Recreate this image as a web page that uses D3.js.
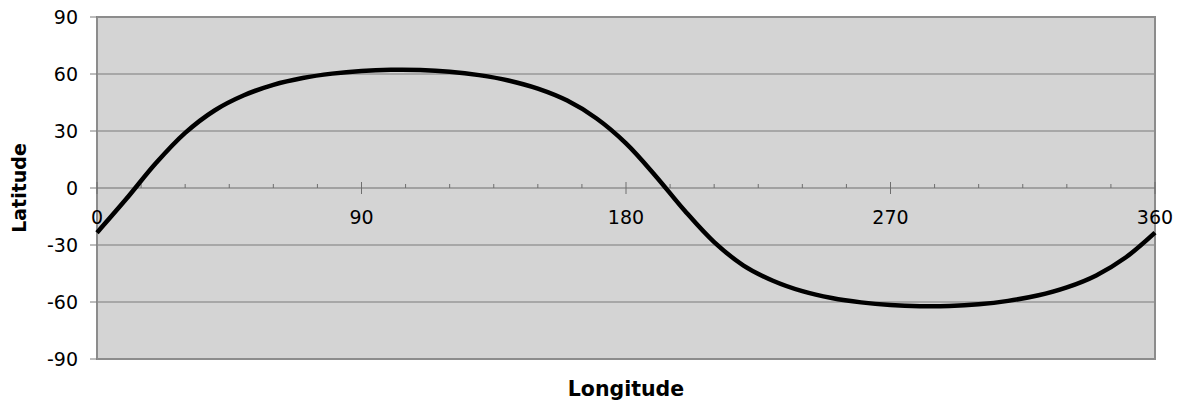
<!DOCTYPE html>
<html>
<head>
<meta charset="utf-8">
<script src="https://cdn.jsdelivr.net/npm/d3@7"></script>
<style>
  body { margin: 0; background: #fff; }
  text { font-family: "DejaVu Sans", Verdana, sans-serif; }
</style>
</head>
<body>
<svg id="chart" width="1180" height="402"></svg>
<script>
// ground track, every 10 degrees
const longitude = [0, 10, 20, 30, 40, 50, 60, 70, 80, 90, 100, 110, 120, 130, 140, 150, 160, 170, 180,
  190, 200, 210, 220, 230, 240, 250, 260, 270, 280, 290, 300, 310, 320, 330, 340, 350, 360];
const latitude = [-23.5, -5.7, 13, 29, 40.8, 48.8, 54.3, 57.9, 60.2, 61.6, 62.2, 62.1, 61.2, 59.4, 56.6, 52.3, 46, 36.6, 23.5,
  6.5, -12, -28.5, -40.8, -48.8, -54.3, -57.9, -60.2, -61.6, -62.2, -62.1, -61.2, -59.4, -56.6, -52.3, -46, -36.6, -23.5];

const yTicks = [90, 60, 30, 0, -30, -60, -90];
const xLabels = [0, 90, 180, 270, 360];
const xMinor = d3.range(0, 361, 15);

const svg = d3.select("#chart");
const margin = { top: 17, right: 25, bottom: 43, left: 97 };
const W = 1180, H = 402;

const x = d3.scaleLinear().domain([0, 360]).range([margin.left, W - margin.right]);
const y = d3.scaleLinear().domain([-90, 90]).range([H - margin.bottom, margin.top]);

// plot background
svg.append("rect")
  .attr("x", x(0)).attr("y", y(90))
  .attr("width", x(360) - x(0)).attr("height", y(-90) - y(90))
  .attr("fill", "#d4d4d4");

// gridlines
svg.append("g").selectAll("line")
  .data(yTicks.filter(d => d !== 0))
  .join("line")
  .attr("x1", x(0)).attr("x2", x(360))
  .attr("y1", d => y(d)).attr("y2", d => y(d))
  .attr("stroke", "#7a7a7a").attr("stroke-width", 1);

// plot border
svg.append("rect")
  .attr("x", x(0)).attr("y", y(90))
  .attr("width", x(360) - x(0)).attr("height", y(-90) - y(90))
  .attr("fill", "none").attr("stroke", "#8c8c8c").attr("stroke-width", 2);

// y axis ticks + labels
const yAxis = svg.append("g");
yAxis.selectAll("line")
  .data(yTicks)
  .join("line")
  .attr("x1", x(0) - 7).attr("x2", x(0))
  .attr("y1", d => y(d)).attr("y2", d => y(d))
  .attr("stroke", "#7a7a7a");
yAxis.selectAll("text")
  .data(yTicks)
  .join("text")
  .attr("x", x(0) - 19)
  .attr("y", d => y(d))
  .attr("dy", "0.36em")
  .attr("text-anchor", "end")
  .attr("font-size", 19)
  .attr("fill", "#000")
  .text(d => d);

// x axis along the equator
const xAxis = svg.append("g");
xAxis.append("line")
  .attr("x1", x(0)).attr("x2", x(360))
  .attr("y1", y(0)).attr("y2", y(0))
  .attr("stroke", "#6e6e6e");
xAxis.selectAll("line.minor")
  .data(xMinor.filter(d => d % 90 !== 0))
  .join("line")
  .attr("class", "minor")
  .attr("x1", d => x(d)).attr("x2", d => x(d))
  .attr("y1", y(0) - 4).attr("y2", y(0))
  .attr("stroke", "#6e6e6e");
xAxis.selectAll("line.major")
  .data(xLabels)
  .join("line")
  .attr("class", "major")
  .attr("x1", d => x(d)).attr("x2", d => x(d))
  .attr("y1", y(0) - 6).attr("y2", y(0) + 6)
  .attr("stroke", "#6e6e6e");
xAxis.selectAll("text")
  .data(xLabels)
  .join("text")
  .attr("x", d => x(d))
  .attr("y", y(0) + 36)
  .attr("text-anchor", "middle")
  .attr("font-size", 19)
  .attr("fill", "#000")
  .text(d => d);

// the track
const line = d3.line()
  .x((d, i) => x(longitude[i]))
  .y(d => y(d))
  .curve(d3.curveCatmullRom);

svg.append("path")
  .datum(latitude)
  .attr("d", line)
  .attr("fill", "none")
  .attr("stroke", "#000")
  .attr("stroke-width", 4.5)
  .attr("stroke-linejoin", "round");

// axis titles
svg.append("text")
  .attr("transform", `translate(26, ${y(0)}) rotate(-90)`)
  .attr("text-anchor", "middle")
  .attr("font-size", 19)
  .attr("font-weight", "bold")
  .text("Latitude");

svg.append("text")
  .attr("x", (x(0) + x(360)) / 2)
  .attr("y", 396)
  .attr("text-anchor", "middle")
  .attr("font-size", 20.5)
  .attr("font-weight", "bold")
  .text("Longitude");
</script>
</body>
</html>
